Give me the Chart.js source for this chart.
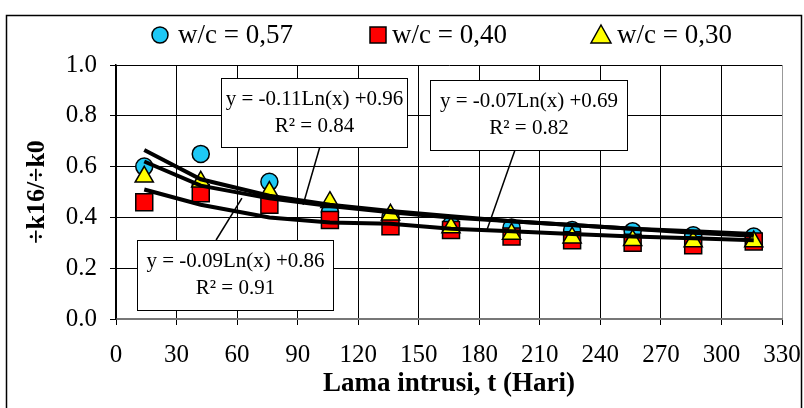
<!DOCTYPE html>
<html>
<head>
<meta charset="utf-8">
<script src="https://cdn.jsdelivr.net/npm/chart.js@4/dist/chart.umd.min.js"></script>
<style>
	html, body { margin: 0; padding: 0; background: #fff; }
	#wrap { width: 804px; height: 408px; }
</style>
</head>
<body>
<div id="wrap"><canvas id="chart"></canvas></div>
<script>
'use strict';

// hari pengukuran
var days = [14, 42, 76, 106, 136, 166, 196, 226, 256, 286, 316];

// nilai titik tiap seri
var wc057 = [0.60, 0.65, 0.54, 0.42, 0.40, 0.37, 0.36, 0.35, 0.345, 0.33, 0.325];
var wc040 = [0.46, 0.495, 0.45, 0.39, 0.365, 0.35, 0.325, 0.31, 0.30, 0.29, 0.305];
var wc030 = [0.56, 0.54, 0.50, 0.46, 0.41, 0.36, 0.335, 0.32, 0.31, 0.305, 0.305];

// garis tren
var trendA = [0.665, 0.55, 0.485, 0.45, 0.425, 0.405, 0.385, 0.37, 0.355, 0.34, 0.328];
var trendB = [0.62, 0.525, 0.475, 0.445, 0.42, 0.40, 0.385, 0.37, 0.355, 0.345, 0.335];
var trendC = [0.51, 0.45, 0.40, 0.38, 0.375, 0.355, 0.345, 0.335, 0.325, 0.318, 0.31];

var seriesLabels = ['w/c = 0,57', 'w/c = 0,40', 'w/c = 0,30'];
var equations = [
	['y = -0.11Ln(x) +0.96', 'R\u00b2 = 0.84'],
	['y = -0.07Ln(x) +0.69', 'R\u00b2 = 0.82'],
	['y = -0.09Ln(x) +0.86', 'R\u00b2 = 0.91']
];

var SERIF = '"Liberation Serif", "Times New Roman", serif';

function toPoints(xs, ys) {
	var pts = [];
	for (var i = 0; i < xs.length; i++) {
		pts.push({x: xs[i], y: ys[i]});
	}
	return pts;
}

function trendSet(values) {
	return {
		type: 'line',
		data: toPoints(days, values),
		borderColor: '#000',
		borderWidth: 4,
		pointRadius: 0,
		tension: 0,
		fill: false
	};
}

// kotak persamaan dalam koordinat data
var notes = [
	{x0: 52, x1: 144, y0: 0.949, y1: 0.677, text: equations[0], lead: [101, 0.677, 92.7, 0.450]},
	{x0: 155.6, x1: 253.2, y0: 0.941, y1: 0.665, text: equations[1], lead: [197.7, 0.665, 183.8, 0.350]},
	{x0: 10.4, x1: 107.5, y0: 0.311, y1: 0.035, text: equations[2], lead: [49.6, 0.311, 62.4, 0.476]}
];

var decorPlugin = {
	id: 'decor',
	afterDraw: function (chart) {
		var ctx = chart.ctx;
		var xs = chart.scales.x;
		var ys = chart.scales.y;
		ctx.save();

		// bingkai luar
		ctx.strokeStyle = '#000';
		ctx.lineWidth = 1.5;
		ctx.strokeRect(6.5, 15.5, 795, 400);

		// kotak persamaan
		ctx.font = '21px ' + SERIF;
		ctx.textAlign = 'center';
		ctx.textBaseline = 'middle';
		for (var i = 0; i < notes.length; i++) {
			var n = notes[i];
			ctx.strokeStyle = '#000';
			ctx.lineWidth = 1.5;
			ctx.beginPath();
			ctx.moveTo(xs.getPixelForValue(n.lead[0]), ys.getPixelForValue(n.lead[1]));
			ctx.lineTo(xs.getPixelForValue(n.lead[2]), ys.getPixelForValue(n.lead[3]));
			ctx.stroke();
			var l = Math.round(xs.getPixelForValue(n.x0)) + 0.5;
			var r = Math.round(xs.getPixelForValue(n.x1)) + 0.5;
			var t = Math.round(ys.getPixelForValue(n.y0)) + 0.5;
			var b = Math.round(ys.getPixelForValue(n.y1)) + 0.5;
			ctx.fillStyle = '#fff';
			ctx.fillRect(l, t, r - l, b - t);
			ctx.lineWidth = 1;
			ctx.strokeRect(l, t, r - l, b - t);
			ctx.fillStyle = '#000';
			ctx.fillText(n.text[0], (l + r) / 2, t + 21);
			ctx.fillText(n.text[1], (l + r) / 2, t + 48);
		}

		// legenda
		var items = [
			{style: 'circle', color: '#1ec8f5', mx: 160, tx: 178},
			{style: 'rect', color: '#ff0000', mx: 378, tx: 392},
			{style: 'triangle', color: '#ffff00', mx: 601, tx: 617}
		];
		var ly = 35;
		ctx.lineWidth = 1.5;
		ctx.strokeStyle = '#000';
		for (var j = 0; j < items.length; j++) {
			var it = items[j];
			ctx.fillStyle = it.color;
			ctx.beginPath();
			if (it.style === 'circle') {
				ctx.arc(it.mx, ly, 8, 0, Math.PI * 2);
			} else if (it.style === 'rect') {
				ctx.rect(it.mx - 8, ly - 8, 16, 16);
			} else {
				ctx.moveTo(it.mx, ly - 10);
				ctx.lineTo(it.mx + 10, ly + 8);
				ctx.lineTo(it.mx - 10, ly + 8);
				ctx.closePath();
			}
			ctx.fill();
			ctx.stroke();
			ctx.fillStyle = '#000';
			ctx.font = '27px ' + SERIF;
			ctx.textAlign = 'left';
			ctx.textBaseline = 'middle';
			ctx.fillText(seriesLabels[j], it.tx, ly + 1);
		}
		ctx.restore();
	}
};

var data = {
	datasets: [
		trendSet(trendA),
		trendSet(trendB),
		trendSet(trendC),
		{
			type: 'scatter',
			label: seriesLabels[2],
			data: toPoints(days, wc030),
			pointStyle: 'triangle',
			pointRadius: 10.5,
			backgroundColor: '#ffff00',
			borderColor: '#000',
			borderWidth: 1.5
		},
		{
			type: 'scatter',
			label: seriesLabels[1],
			data: toPoints(days, wc040),
			pointStyle: 'rect',
			pointRadius: 12,
			backgroundColor: '#ff0000',
			borderColor: '#000',
			borderWidth: 1.5
		},
		{
			type: 'scatter',
			label: seriesLabels[0],
			data: toPoints(days, wc057),
			pointStyle: 'circle',
			pointRadius: 8.5,
			backgroundColor: '#1ec8f5',
			borderColor: '#000',
			borderWidth: 1.5
		}
	]
};

var config = {
	type: 'scatter',
	data: data,
	options: {
		responsive: true,
		maintainAspectRatio: false,
		animation: false,
		layout: {
			padding: {left: 0, top: 65, right: 22, bottom: 0}
		},
		plugins: {
			legend: {display: false},
			tooltip: {enabled: false}
		},
		scales: {
			x: {
				type: 'linear',
				min: 0,
				max: 330,
				ticks: {
					stepSize: 30,
					color: '#000',
					padding: 15,
					font: {family: SERIF, size: 25}
				},
				grid: {
					color: function (c) {
						return c.tick && c.tick.value === 330 ? '#999' : '#000';
					},
					lineWidth: 1,
					tickLength: 6,
					tickColor: '#000'
				},
				border: {color: '#777', width: 2},
				title: {
					display: true,
					text: 'Lama intrusi, t (Hari)',
					color: '#000',
					font: {family: SERIF, size: 27, weight: 'bold'},
					padding: {top: 0, bottom: 8}
				},
				afterFit: function (scale) {
					scale.height = 89;
					scale.paddingLeft = 0;
					scale.paddingRight = 0;
				}
			},
			y: {
				min: 0,
				max: 1,
				ticks: {
					stepSize: 0.2,
					color: '#000',
					padding: 13,
					font: {family: SERIF, size: 25},
					callback: function (v) {
						return v.toFixed(1);
					}
				},
				grid: {
					color: '#000',
					lineWidth: 1,
					tickLength: 6,
					tickColor: '#000'
				},
				border: {color: '#000', width: 1.5},
				title: {
					display: true,
					text: '\u00f7k16/\u00f7k0',
					color: '#000',
					font: {family: SERIF, size: 26, weight: 'bold'},
					padding: {top: 22, bottom: 0}
				},
				afterFit: function (scale) {
					scale.width = 116;
					scale.paddingTop = 0;
					scale.paddingBottom = 0;
				}
			}
		}
	},
	plugins: [decorPlugin]
};

var kChart = new Chart(document.getElementById('chart'), config);
</script>
</body>
</html>
